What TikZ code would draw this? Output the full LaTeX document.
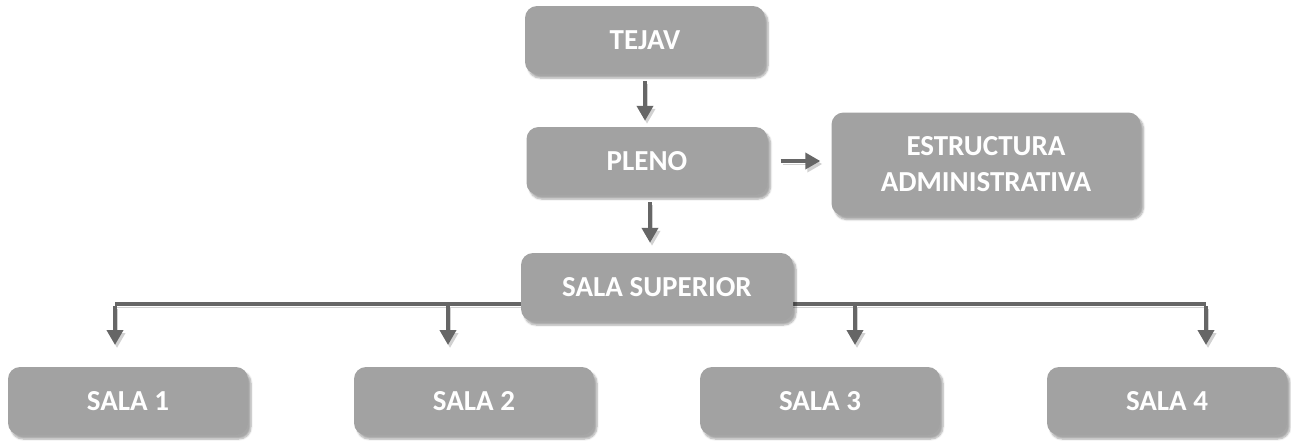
\documentclass[tikz,border=0pt]{standalone}
\usepackage{fontspec}
\setmainfont{Carlito}
\usetikzlibrary{arrows.meta,shadows.blur}
\definecolor{boxgray}{RGB}{162,162,162}
\definecolor{arrgray}{RGB}{102,102,102}
\tikzset{
  orgbox/.style={fill=boxgray, rounded corners=12pt, text=white,
    font=\fontsize{29}{36}\selectfont\bfseries, align=center, inner sep=0pt,
    blur shadow={shadow xshift=3pt, shadow yshift=-4pt, shadow blur steps=6, shadow opacity=35}},
  conn/.style={draw=arrgray, line width=4pt,
    -{Triangle[length=15pt,width=16pt]},
    preaction={draw=black!18, transform canvas={shift={(2pt,-3pt)}}}},
  plainconn/.style={draw=arrgray, line width=4pt,
    preaction={draw=black!18, transform canvas={shift={(2pt,-3pt)}}}}
}
\begin{document}
\begin{tikzpicture}[x=1pt,y=-1pt]
\useasboundingbox (0,0) rectangle (1291,440);
% bus
\coordinate (busL) at (115,304);
\coordinate (busR) at (1206,304);
\coordinate (d1) at (115,345);
\coordinate (d2) at (448,345);
\coordinate (d3) at (855,345);
\coordinate (d4) at (1206,345);
\coordinate (b2) at (448,304);
\coordinate (b3) at (855,304);
\draw[plainconn] (busL) -- (busR);
\draw[conn] (b2) -- (d2);
\draw[conn] (b3) -- (d3);
\draw[conn] ([shift={(0,-2pt)}]busL) -- (d1);
\draw[conn] ([shift={(0,-2pt)}]busR) -- (d4);
% nodes
\node[orgbox, minimum width=240pt, minimum height=68pt] (tejav) at (645,40) {TEJAV};
\node[orgbox, minimum width=241pt, minimum height=68pt] (pleno) at (647,161) {PLENO};
\node[orgbox, minimum width=309pt, minimum height=103pt] (ea) at (986,164) {ESTRUCTURA\\ADMINISTRATIVA};
\node[orgbox, minimum width=272pt, minimum height=68pt] (ss) at (657,287) {SALA SUPERIOR};
\node[orgbox, minimum width=240pt, minimum height=68pt] (s1) at (128,401) {SALA 1};
\node[orgbox, minimum width=240pt, minimum height=68pt] (s2) at (474,401) {SALA 2};
\node[orgbox, minimum width=240pt, minimum height=68pt] (s3) at (820,401) {SALA 3};
\node[orgbox, minimum width=240pt, minimum height=68pt] (s4) at (1167,401) {SALA 4};
% connectors
\draw[conn, shorten <=7pt, shorten >=6pt] (tejav.south) -- (pleno.north -| tejav.south);
\draw[conn, shorten <=13pt, shorten >=11pt] (pleno.east) -- (pleno.east -| ea.west);
\draw[conn, shorten <=7pt, shorten >=10pt] (pleno.south -| 650,0) -- (ss.north -| 650,0);
\end{tikzpicture}
\end{document}
